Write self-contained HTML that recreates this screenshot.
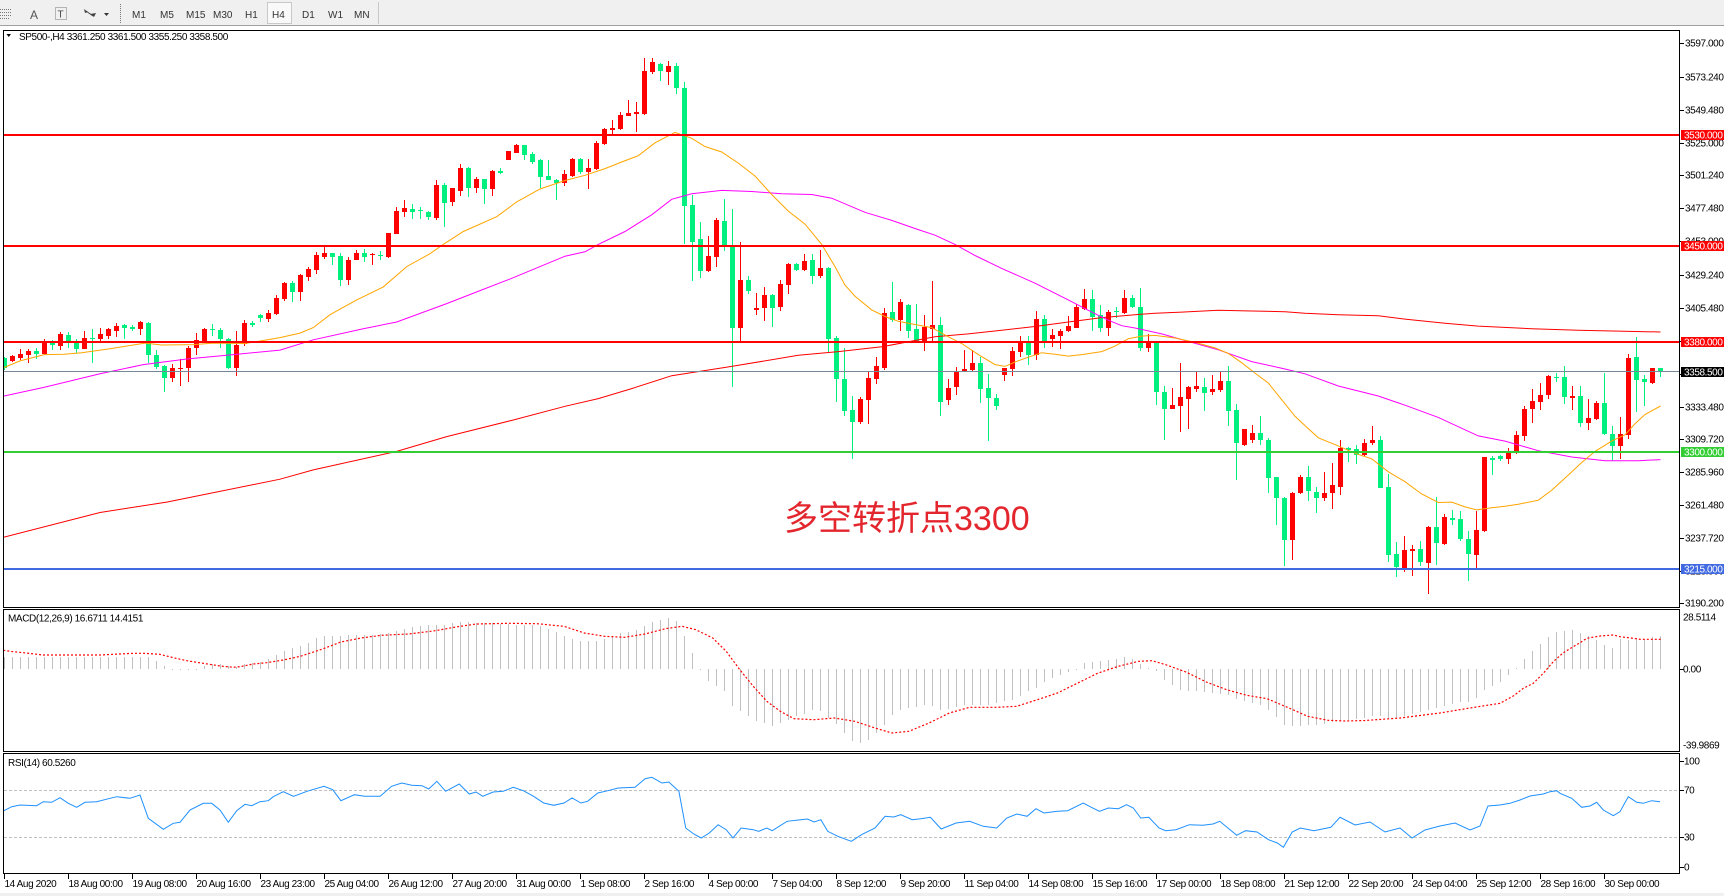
<!DOCTYPE html>
<html><head><meta charset="utf-8">
<style>
html,body{margin:0;padding:0;background:#fff;}
svg{display:block;font-family:"Liberation Sans","Noto Sans CJK SC",sans-serif;}
.t{font-size:10px;letter-spacing:-0.4px;fill:#000;}
.w{font-size:10px;letter-spacing:-0.4px;fill:#fff;}
.tb{font-size:10px;fill:#333;}
</style></head><body>
<svg id="svg" width="1724" height="896" viewBox="0 0 1724 896" xmlns="http://www.w3.org/2000/svg">
<defs>
<clipPath id="cm"><rect x="4" y="31" width="1675" height="576"/></clipPath>
<clipPath id="cd"><rect x="4" y="610" width="1675" height="141"/></clipPath>
<clipPath id="cr"><rect x="4" y="754" width="1675" height="119"/></clipPath>
</defs>
<rect width="1724" height="896" fill="#fff"/>
<!-- toolbar -->
<rect x="0" y="0" width="1724" height="26" fill="#f0f0f0"/>
<rect x="0" y="25" width="1724" height="1" fill="#a0a0a0"/>
<g stroke="#777" stroke-width="1" stroke-dasharray="1,1" shape-rendering="crispEdges">
<line x1="0" y1="9.5" x2="12" y2="9.5"/><line x1="0" y1="12.5" x2="12" y2="12.5"/><line x1="0" y1="15.5" x2="12" y2="15.5"/><line x1="0" y1="18.5" x2="10" y2="18.5"/>
<rect x="55.5" y="7.5" width="11" height="12" fill="none"/>
<line x1="120.5" y1="4" x2="120.5" y2="23"/>
</g>
<text x="30" y="19" font-size="12" fill="#555">A</text>
<text x="57.5" y="17.5" font-size="10" fill="#444">T</text>
<path d="M84 9 L88 12 L85 13 Z M90 14 L94 17 L96 13 Z" fill="#444"/>
<line x1="86" y1="11" x2="93" y2="16" stroke="#444"/>
<path d="M104 13 L109 13 L106.5 16 Z" fill="#333"/>
<rect x="267.5" y="2.5" width="24" height="21" fill="#f9f9f9" stroke="#c8c8c8"/>
<text class="tb" x="132" y="18">M1</text>
<text class="tb" x="160" y="18">M5</text>
<text class="tb" x="186" y="18">M15</text>
<text class="tb" x="213" y="18">M30</text>
<text class="tb" x="245" y="18">H1</text>
<text class="tb" x="272" y="18">H4</text>
<text class="tb" x="302" y="18">D1</text>
<text class="tb" x="328" y="18">W1</text>
<text class="tb" x="354" y="18">MN</text>
<rect x="378" y="2" width="1" height="22" fill="#c8c8c8"/>

<!-- panels -->
<g fill="none" stroke="#000" stroke-width="1" shape-rendering="crispEdges">
<rect x="3.5" y="30.5" width="1676" height="577"/>
<rect x="3.5" y="609.5" width="1676" height="142"/>
<rect x="3.5" y="753.5" width="1676" height="120"/>
</g>

<g id="main" clip-path="url(#cm)"></g>
<g id="macd" clip-path="url(#cd)"></g>
<g id="rsi" clip-path="url(#cr)"></g>
<g id="ticks" shape-rendering="crispEdges"></g>

<!-- title -->
<polygon points="6.5,34 11,34 8.75,37" fill="#000"/>
<text class="t" x="19" y="40">SP500-,H4  3361.250 3361.500 3355.250 3358.500</text>
<text class="t" x="8" y="621.5">MACD(12,26,9) 16.6711 14.4151</text>
<text class="t" x="8" y="766">RSI(14) 60.5260</text>

<!-- chinese annotation -->
<text x="784" y="530" font-size="34" fill="#e3262d" font-family="Liberation Sans, Noto Sans CJK SC, sans-serif">多空转折点3300</text>

<!-- price axis -->
<text class="t" x="1685" y="46.5">3597.000</text>
<text class="t" x="1685" y="80.5">3573.240</text>
<text class="t" x="1685" y="113.5">3549.480</text>
<text class="t" x="1685" y="146.5">3525.000</text>
<text class="t" x="1685" y="178.5">3501.240</text>
<text class="t" x="1685" y="211.5">3477.480</text>
<text class="t" x="1685" y="244.5">3453.000</text>
<text class="t" x="1685" y="278.5">3429.240</text>
<text class="t" x="1685" y="311.5">3405.480</text>
<text class="t" x="1685" y="410.5">3333.480</text>
<text class="t" x="1685" y="442.5">3309.720</text>
<text class="t" x="1685" y="475.5">3285.960</text>
<text class="t" x="1685" y="508.5">3261.480</text>
<text class="t" x="1685" y="541.5">3237.720</text>
<text class="t" x="1685" y="574.5">3213.960</text>
<text class="t" x="1685" y="606.5">3190.200</text>

<rect x="1681" y="130" width="43" height="10" fill="#ff0000"/>
<text class="w" x="1684" y="138.5">3530.000</text>
<rect x="1681" y="241" width="43" height="10" fill="#ff0000"/>
<text class="w" x="1684" y="249.5">3450.000</text>
<rect x="1681" y="337" width="43" height="10" fill="#ff0000"/>
<text class="w" x="1684" y="345.5">3380.000</text>
<rect x="1681" y="367" width="43" height="10" fill="#000000"/>
<text class="w" x="1684" y="375.5">3358.500</text>
<rect x="1681" y="447" width="43" height="10" fill="#32cd32"/>
<text class="w" x="1684" y="455.5">3300.000</text>
<rect x="1681" y="564" width="43" height="10" fill="#4169e1"/>
<text class="w" x="1684" y="572.5">3215.000</text>

<!-- indicator axes -->
<text class="t" x="1683" y="620.5">28.5114</text>
<text class="t" x="1683" y="672.5">0.00</text>
<text class="t" x="1683" y="748.5">-39.9869</text>
<text class="t" x="1684" y="764.5">100</text>
<text class="t" x="1684" y="793.5">70</text>
<text class="t" x="1684" y="840.5">30</text>
<text class="t" x="1684" y="870.5">0</text>

<!-- time axis -->
<text class="t" x="4.5" y="887">14 Aug 2020</text>
<text class="t" x="68.5" y="887">18 Aug 00:00</text>
<text class="t" x="132.5" y="887">19 Aug 08:00</text>
<text class="t" x="196.5" y="887">20 Aug 16:00</text>
<text class="t" x="260.5" y="887">23 Aug 23:00</text>
<text class="t" x="324.5" y="887">25 Aug 04:00</text>
<text class="t" x="388.5" y="887">26 Aug 12:00</text>
<text class="t" x="452.5" y="887">27 Aug 20:00</text>
<text class="t" x="516.5" y="887">31 Aug 00:00</text>
<text class="t" x="580.5" y="887">1 Sep 08:00</text>
<text class="t" x="644.5" y="887">2 Sep 16:00</text>
<text class="t" x="708.5" y="887">4 Sep 00:00</text>
<text class="t" x="772.5" y="887">7 Sep 04:00</text>
<text class="t" x="836.5" y="887">8 Sep 12:00</text>
<text class="t" x="900.5" y="887">9 Sep 20:00</text>
<text class="t" x="964.5" y="887">11 Sep 04:00</text>
<text class="t" x="1028.5" y="887">14 Sep 08:00</text>
<text class="t" x="1092.5" y="887">15 Sep 16:00</text>
<text class="t" x="1156.5" y="887">17 Sep 00:00</text>
<text class="t" x="1220.5" y="887">18 Sep 08:00</text>
<text class="t" x="1284.5" y="887">21 Sep 12:00</text>
<text class="t" x="1348.5" y="887">22 Sep 20:00</text>
<text class="t" x="1412.5" y="887">24 Sep 04:00</text>
<text class="t" x="1476.5" y="887">25 Sep 12:00</text>
<text class="t" x="1540.5" y="887">28 Sep 16:00</text>
<text class="t" x="1604.5" y="887">30 Sep 00:00</text>
<rect x="0" y="893" width="1724" height="3" fill="#f0f0f0"/>
</svg>
<script>
(function(){
var NS="http://www.w3.org/2000/svg";
function el(p,t,a){var e=document.createElementNS(NS,t);for(var k in a)e.setAttribute(k,a[k]);p.appendChild(e);return e;}
var main=document.getElementById("main"),macd=document.getElementById("macd"),rsi=document.getElementById("rsi"),ticks=document.getElementById("ticks");
function Y(v){return 30+v/2.705;}
var C=[
[0,888,915,885,920],[1,881,895,878,898],[1,876,887,862,893],[1,867,880,862,902],[0,867,877,860,890],[1,843,877,835,880],[0,845,853,838,865],[1,822,854,818,865],[0,825,843,816,860],[0,845,862,835,875],
[1,833,864,813,864],[0,832,834,808,902],[1,822,835,806,840],[1,810,827,807,835],[1,800,815,792,830],[0,798,805,795,835],[0,803,808,797,813],[1,789,808,786,826],[0,792,878,790,900],[0,879,912,865,918],
[0,910,942,905,978],[1,915,940,903,953],[1,913,918,889,962],[1,860,915,855,953],[1,838,861,820,880],[1,810,843,806,845],[0,808,812,795,828],[0,811,837,805,860],[0,836,913,833,916],[1,851,913,815,935],
[1,792,850,785,855],[0,792,798,787,803],[0,772,780,768,790],[1,766,783,757,790],[1,726,767,718,772],[1,684,727,683,733],[0,684,710,680,735],[1,662,710,660,733],[1,646,668,642,680],[1,608,648,600,660],
[1,603,613,588,620],[0,603,615,603,637],[0,611,676,603,692],[1,622,676,615,690],[1,603,622,595,622],[0,603,613,592,627],[1,607,609,602,635],[0,608,610,597,622],[1,549,613,549,618],[1,489,552,479,553],
[1,481,492,460,505],[0,484,491,470,510],[0,488,490,480,510],[0,492,507,490,515],[1,418,508,406,513],[0,418,467,413,533],[1,427,465,427,476],[1,373,435,362,450],[0,373,427,370,453],[1,403,427,398,442],
[0,403,430,403,470],[1,381,430,378,449],[0,381,386,373,390],[1,327,353,327,353],[1,311,332,308,332],[0,311,337,311,351],[0,335,357,330,362],[0,353,397,350,428],[0,395,407,351,407],[0,407,413,402,460],
[1,390,413,378,421],[1,348,395,345,398],[0,348,385,345,390],[1,373,383,350,430],[1,305,377,300,380],[1,268,308,265,312],[1,265,270,243,283],[1,230,268,222,270],[1,225,232,188,232],[1,222,226,195,275],
[1,111,228,75,230],[1,87,113,75,120],[0,91,112,88,138],[1,97,114,85,148],[0,97,157,90,172],[0,157,475,142,580],[0,473,573,446,678],[0,565,653,520,672],[1,611,652,557,655],[1,513,613,508,640],
[0,516,583,457,597],[0,587,807,484,965],[1,676,807,573,847],[0,676,707,665,713],[1,753,757,711,770],[1,718,752,695,787],[0,718,752,715,803],[1,688,748,676,760],[1,634,691,630,713],[0,634,650,630,652],
[1,624,650,607,652],[0,622,665,607,687],[1,643,665,595,670],[0,643,837,640,870],[0,833,945,828,1005],[0,943,1030,860,1043],[0,1027,1060,990,1160],[1,997,1060,993,1067],[1,940,1000,922,1065],[1,910,945,885,957],
[1,765,915,753,920],[0,763,785,682,790],[1,735,785,727,813],[0,743,813,740,832],[0,808,840,740,843],[1,803,840,770,867],[1,797,808,680,840],[0,797,1005,775,1043],[1,968,1002,945,1015],[1,922,965,912,987],
[1,916,926,865,926],[1,900,920,865,922],[0,900,972,885,1010],[0,968,995,930,1112],[0,995,1016,985,1028],[1,913,932,913,950],[1,868,918,857,935],[1,845,870,827,885],[0,845,880,827,905],[1,781,880,760,892],
[0,781,842,770,860],[1,825,835,810,857],[1,813,827,810,862],[1,800,815,773,818],[1,749,805,740,805],[1,727,755,700,757],[0,727,775,704,813],[0,772,805,745,818],[1,762,807,757,827],[0,761,763,750,780],
[1,725,765,703,768],[0,725,750,718,752],[0,749,860,697,868],[1,845,860,823,870],[0,845,978,840,1015],[0,980,1026,962,1108],[1,1014,1024,968,1024],[1,992,1018,900,1087],[1,967,997,962,1078],[1,962,970,925,978],
[0,965,983,940,1030],[1,970,978,933,988],[1,949,975,925,978],[0,949,1030,908,1070],[0,1028,1118,1012,1217],[1,1080,1122,1078,1124],[1,1089,1108,1068,1118],[0,1089,1110,1045,1122],[0,1110,1213,1103,1253],[0,1208,1265,1208,1340],
[0,1265,1380,1262,1450],[1,1253,1380,1251,1435],[1,1208,1253,1205,1255],[0,1208,1248,1180,1275],[0,1250,1267,1237,1307],[1,1252,1267,1195,1275],[1,1230,1253,1172,1297],[1,1130,1235,1108,1258],[0,1130,1135,1127,1168],[0,1133,1150,1122,1175],
[1,1117,1150,1105,1152],[1,1108,1117,1070,1122],[0,1110,1238,1098,1240],[0,1235,1420,1200,1438],[0,1418,1452,1384,1480],[1,1406,1455,1370,1467],[1,1403,1410,1392,1478],[0,1403,1440,1382,1450],[1,1345,1443,1343,1525],[0,1345,1388,1263,1448],
[1,1317,1390,1310,1393],[0,1320,1325,1298,1340],[0,1322,1378,1300,1383],[0,1376,1418,1355,1490],[1,1353,1420,1300,1455],[1,1155,1355,1155,1357],[0,1158,1162,1152,1205],[0,1152,1160,1150,1167],[1,1143,1160,1130,1175],[1,1095,1145,1085,1148],
[1,1025,1098,1018,1113],[1,1003,1025,970,1062],[1,987,1005,955,1027],[1,935,987,933,998],[0,938,940,927,952],[0,938,993,908,1013],[1,990,995,962,1027],[0,990,1062,962,1075],[1,1050,1062,997,1083],[1,1008,1053,1003,1055],
[0,1008,1092,927,1095],[0,1093,1125,1072,1165],[1,1093,1125,1047,1160],[1,887,1095,877,1105],[0,885,948,830,1033],[0,945,953,933,1018],[1,914,955,914,958],[0,914,925,914,938]
];
var cg=el(main,"g",{"shape-rendering":"crispEdges"});
for(var i=0;i<C.length;i++){
 var d=C[i],col=d[0]?"#ff0000":"#00f080";
 var wt=Math.round(Y(d[3])),wb=Math.round(Y(d[4]));
 el(cg,"rect",{x:4+8*i,y:wt,width:1,height:Math.max(1,wb-wt),fill:col});
 var bt=Math.round(Y(d[1])),bb=Math.round(Y(d[2]));
 el(cg,"rect",{x:2+8*i,y:bt,width:5,height:Math.max(1,bb-bt),fill:col});
}
function pl(p,pts,col,extra){var s="";for(var j=0;j<pts.length;j++)s+=pts[j][0]+","+pts[j][1]+" ";var a={points:s,fill:"none",stroke:col,"stroke-width":1};if(extra)for(var k in extra)a[k]=extra[k];return el(p,"polyline",a);}
var OR=[[4,367.5],[20,360.9],[44.3,354.6],[64.3,354.2],[81.7,352.7],[110,348.7],[145,343.1],[161.7,345],[193.3,344.6],[213.3,343.1],[245,343.5],[263.3,340.5],[280,337.6],[300,333.1],[313.3,327.6],[330,314.7],[356.7,299.9],[383.3,286.9],[406.7,266.6],[430,253.7],[443.3,244.4],[463.3,231.5],[496.7,216.7],[516.7,201.9],[540,189],[565,180.5],[585,175.3],[605,168.6],[621.7,162],[638.3,155.7],[655,142.8],[675,132.4],[691.7,138.3],[705,146.5],[721.7,152],[738.3,163.1],[755,176],[771.7,194.5],[788.3,211.1],[805,224.1],[821.7,244.4],[835,266.6],[845,285.1],[855,296.2],[871.7,309.9],[885,316.5],[898.3,321.3],[911.7,323.9],[931.7,327.6],[948.3,336.8],[961.7,343.5],[978.3,354.6],[995,364.6],[1005,366.4],[1015,362],[1028.3,357.2],[1041.7,352.7],[1055,354.2],[1068.3,356.1],[1081.7,354.6],[1101.7,351.6],[1115,346.1],[1128.3,338.7],[1141.7,336.1],[1155,335.4],[1175,338],[1195,342.4],[1215,347.9],[1228.3,353.5],[1241.7,362.7],[1255,373.1],[1268.3,383],[1281.7,399.7],[1295,416.3],[1305,425.6],[1318.3,437.8],[1338.3,445.9],[1355,453.3],[1371.7,458.8],[1388.3,471.8],[1405,481.7],[1421.7,494],[1438.3,502.5],[1451.7,502.1],[1465,506.9],[1476.7,509.9],[1491.7,507.7],[1505,506.2],[1518.3,504.3],[1538.3,500.2],[1551.7,490.3],[1565,478.1],[1581.7,462.5],[1595,451.4],[1611.7,441.1],[1625,434.8],[1635,423.7],[1645,414.5],[1660.5,406]];
var MG=[[4,396],[43.3,387.5],[100,373.8],[143.3,364.6],[186.7,359],[233.3,354.6],[280,350.1],[313.3,339.8],[363.3,328.7],[396.7,322],[446.7,303.6],[480,290.6],[513.3,277.7],[565,256.2],[585,251.8],[598.3,244.4],[625,231.5],[651.7,214.8],[671.7,199.3],[691.7,193.8],[721.7,190.4],[751.7,191.5],[781.7,193.8],[811.7,194.5],[831.7,198.2],[865,212.3],[891.7,220.4],[918.3,229.6],[935,235.2],[955,244.4],[975,255.5],[1001.7,268.4],[1035,283.2],[1068.3,299.9],[1091.7,312.1],[1108.3,320.2],[1121.7,325.7],[1135,328],[1161.7,333.9],[1185,340.5],[1218.3,349.8],[1251.7,361.6],[1285,369],[1305,373.8],[1338.3,386],[1378.3,396],[1405,405.2],[1438.3,417.4],[1478.3,435.9],[1505,441.1],[1538.3,450.7],[1571.7,457],[1605,460.7],[1638.3,460.7],[1660.5,459.6]];
var RD=[[4,537.2],[100,512.5],[166.7,502.1],[280,479.2],[313.3,469.9],[396.7,451.4],[446.7,436.6],[513.3,420],[565,406.3],[598.3,398.6],[631.7,388.6],[671.7,375.7],[731.7,366.4],[798.3,355.3],[838.3,351.6],[881.7,346.8],[935,336.8],[968.3,333.9],[1001.7,330.2],[1035,326.5],[1068.3,322],[1101.7,317.6],[1135,314.7],[1155,313.2],[1181.7,312.1],[1218.3,310.2],[1251.7,311],[1285,311.7],[1305,313.2],[1338.3,314.7],[1378.3,315.8],[1405,319.1],[1445,323.2],[1478.3,326.1],[1531.7,328.7],[1578.3,330.2],[1660.5,332]];
pl(main,RD,"#ff0000");
pl(main,MG,"#ff00ff");
pl(main,OR,"#ffa500");
var hg=el(main,"g",{"shape-rendering":"crispEdges"});
el(hg,"rect",{x:4,y:371,width:1675,height:1,fill:"#778899"});
el(hg,"rect",{x:4,y:134,width:1675,height:2,fill:"#ff0000"});
el(hg,"rect",{x:4,y:245,width:1675,height:2,fill:"#ff0000"});
el(hg,"rect",{x:4,y:341,width:1675,height:2,fill:"#ff0000"});
el(hg,"rect",{x:4,y:451,width:1675,height:2,fill:"#32cd32"});
el(hg,"rect",{x:4,y:568,width:1675,height:2,fill:"#4169e1"});

/* MACD histogram */
var H=[];
for(var i=0;i<18;i++)H.push(656.7);
H=H.concat([657,660.7,666,668.7,668.7,670,668.7,666,664,664,666,666.7,664,662.7,661.7,659,655,650.7]);
var HZ=[120,115,105,90,83,83,83,82,80,80,80,78,75,70,62,58,55,52,52,50,45,43,43,44,45,45,47,48,50,50,52,55,62,72,85,92,98,100,100,92,85,75,72,65,55,42,35,30,40,85,135,184,218,235,250,295,310,325,340,345,355,345,335,325,318,305,310,330,348,375,400,405,395,375,350,322,305,300,298,290,295,305,302,298,292,290,290,292,285,278,275,265,250,240,222,210,200,192,185,165,163,160,157,153,148,152,168,180,190,215,232,245,248,250,252,255,258,262,272,278,285,290,305,328,352,355,355,352,352,348,342];
for(var j=0;j<HZ.length;j++)H.push(608+HZ[j]/3);
H=H.concat([721,720,719,718,716,716,718,718,716,714,712,710,708,706,704,702,702,698,690,686]);
H=H.concat([681.7,675,667.7,659,651,644,637.3,631.7,630.7,630,632.7,636,640,645,647.7,639.3,640,637.7,639.3,637.3,636]);
var mg=el(macd,"g",{"shape-rendering":"crispEdges"});
var Z=669;
for(var i=0;i<H.length&&i<208;i++){
 var v=H[i],t=Math.round(Math.min(v,Z)),b=Math.round(Math.max(v,Z));
 if(b-t<1)b=t+1;
 el(mg,"rect",{x:4+8*i,y:t,width:1,height:b-t,fill:"#c0c0c0"});
}
var S=[[3.3,650.3],[13.3,651.7],[23.3,652.7],[43.3,655],[100,655],[133.3,653.3],[143.3,653.3],[160,654.3],[173.3,657.7],[186.7,660.7],[203.3,663.3],[220,666],[233.3,667.3],[240,666.7],[253.3,664],[266.7,662.7],[283.3,660],[300.3,656.3],[320.6,649.7],[340.9,642],[361.1,638],[381.4,635.3],[408.5,634],[435.5,630.7],[455.8,627],[476.1,624],[509.9,623.3],[536.9,623.7],[564,626.3],[584.3,633],[604.5,636.3],[624.8,637.3],[645.1,634],[665.4,628.7],[682.3,626.3],[695.8,629.7],[712.7,638],[726.2,651.3],[739.8,669.7],[753.3,686.3],[766.8,701.3],[780.3,711.3],[793.9,718.7],[814.1,719.7],[834.4,718],[854.7,721.3],[875,728],[891.9,733],[908.8,731.3],[929.1,723],[949.4,713],[969.6,707.3],[996.7,707.3],[1016.9,706.3],[1037.2,699.7],[1057.5,693],[1077.8,683],[1098.1,673],[1118.4,666.3],[1138.6,661.3],[1152.2,660.7],[1165.7,664.7],[1186,672],[1206.3,682],[1226.6,689.7],[1246.8,695.3],[1267.1,698.7],[1287.4,707.3],[1307.7,716.3],[1328,720.3],[1345,721],[1365,720.5],[1400,718],[1440,713],[1470,708],[1500,703.3],[1513.3,696],[1523.3,688.3],[1533.3,683.3],[1543.3,673.3],[1553.3,661.7],[1563.3,652.7],[1573.3,646.7],[1581.7,641.7],[1586.7,638.3],[1600,636],[1613.3,635],[1620,636.7],[1633.3,638.3],[1640,639.3],[1660.7,639.3]];
pl(macd,S,"#ff0000",{"stroke-dasharray":"2,2","stroke-width":1.2});

/* RSI */
var rg=el(rsi,"g",{});
el(rg,"line",{x1:4,y1:790.5,x2:1679,y2:790.5,stroke:"#c0c0c0","stroke-dasharray":"3,2"});
el(rg,"line",{x1:4,y1:837.5,x2:1679,y2:837.5,stroke:"#c0c0c0","stroke-dasharray":"3,2"});
var R=[[3.3,811],[11.7,806.7],[20,805],[36.7,805.7],[43.3,801.7],[51.7,802.3],[60,797.7],[68.3,803.3],[76.7,807.3],[85,802.3],[96.7,801.7],[110,798.3],[116.7,796.7],[130,798.3],[140,795],[148.3,818.3],[163.3,829.3],[173.3,823.3],[180,822.3],[190,810],[203.3,803.3],[211.7,803.3],[220,810],[228.3,822.3],[236.7,810.7],[245,804.3],[251.7,805.7],[260,801.7],[268.3,800.7],[273.3,796.7],[283.3,791.7],[293.5,796.3],[307,791.3],[324,786.3],[332.7,789.7],[340.9,800.7],[354.4,794.7],[364.5,796.3],[380.1,796.3],[391.6,786.3],[401.7,783],[411.8,785.3],[422,785.7],[428.7,789],[436.9,781.3],[445.7,791.3],[459.2,784],[469.3,794],[476.1,792],[482.8,796.3],[493,792],[503.1,791.3],[513.3,787.3],[523.4,790.7],[533.6,796.3],[543.7,803],[553.8,805.3],[564,803],[572.1,798],[580.9,803],[587.6,801.3],[597.8,793],[607.9,790.7],[618.1,788],[635,787.3],[645.1,778.7],[651.9,777.3],[662,783],[668.8,782],[678.9,791.3],[685.7,828],[693.8,834],[701.2,838],[709.3,833],[718.1,824.7],[726.2,829.7],[733,838],[741.1,828],[753.3,829.7],[758.7,831.3],[766.8,828],[772.2,830.7],[787.1,821.3],[800.6,819.7],[807.4,819],[814.1,822],[820.9,819.7],[827.7,831.3],[837.8,836.3],[851.3,841.3],[861.5,834.7],[875,828],[885.1,816.3],[893.9,817],[900.7,814.7],[912.2,819.7],[920.9,818.7],[930.4,817.3],[941.2,829],[956.1,823],[969.6,821.3],[983.2,826.3],[996.7,828],[1006.8,818],[1016.9,814],[1027.1,816.3],[1035.9,808.7],[1044,813],[1057.5,811.3],[1067.7,810.7],[1083.2,803],[1091.4,807.3],[1099.5,811.3],[1108.3,808],[1118.4,808.7],[1126.5,804.7],[1133.3,808],[1140.7,818],[1148.8,817.3],[1159,828],[1165.7,830.7],[1175.9,829.7],[1189.4,824.7],[1202.9,825.3],[1213,824],[1219.8,821.3],[1236.7,835.3],[1245.5,830.7],[1257,832],[1268.5,839.7],[1277.3,843],[1283.4,847.3],[1292.2,832],[1300.3,828],[1313.9,830.7],[1330.8,827.3],[1340,817.3],[1355,825],[1370,822],[1385,832],[1400,828],[1412,838],[1425,830],[1440,826],[1455,823],[1470,830],[1480,826],[1488,806],[1500,805],[1510,803.3],[1520,800],[1530,796],[1543.3,794],[1550,791.7],[1556.7,790.7],[1560,793.3],[1571.7,798.3],[1581.7,807.3],[1590,806],[1596.7,802.3],[1603.3,810],[1613.3,815.7],[1620,811.7],[1628.3,796.7],[1636.7,802.3],[1643.3,803.3],[1651.7,800.7],[1660,801.7]];
pl(rsi,R,"#1e90ff");

/* axis ticks */
var py=[43,77,110,143,175,208,241,275,308,341,374,407,439,472,505,538,571,603,669,761,790,837,867];
for(var k=0;k<py.length;k++)el(ticks,"rect",{x:1680,y:py[k],width:4,height:1,fill:"#000"});
for(var n=0;n<26;n++)el(ticks,"rect",{x:4+64*n,y:874,width:1,height:5,fill:"#000"});
})();
</script>
</body></html>
